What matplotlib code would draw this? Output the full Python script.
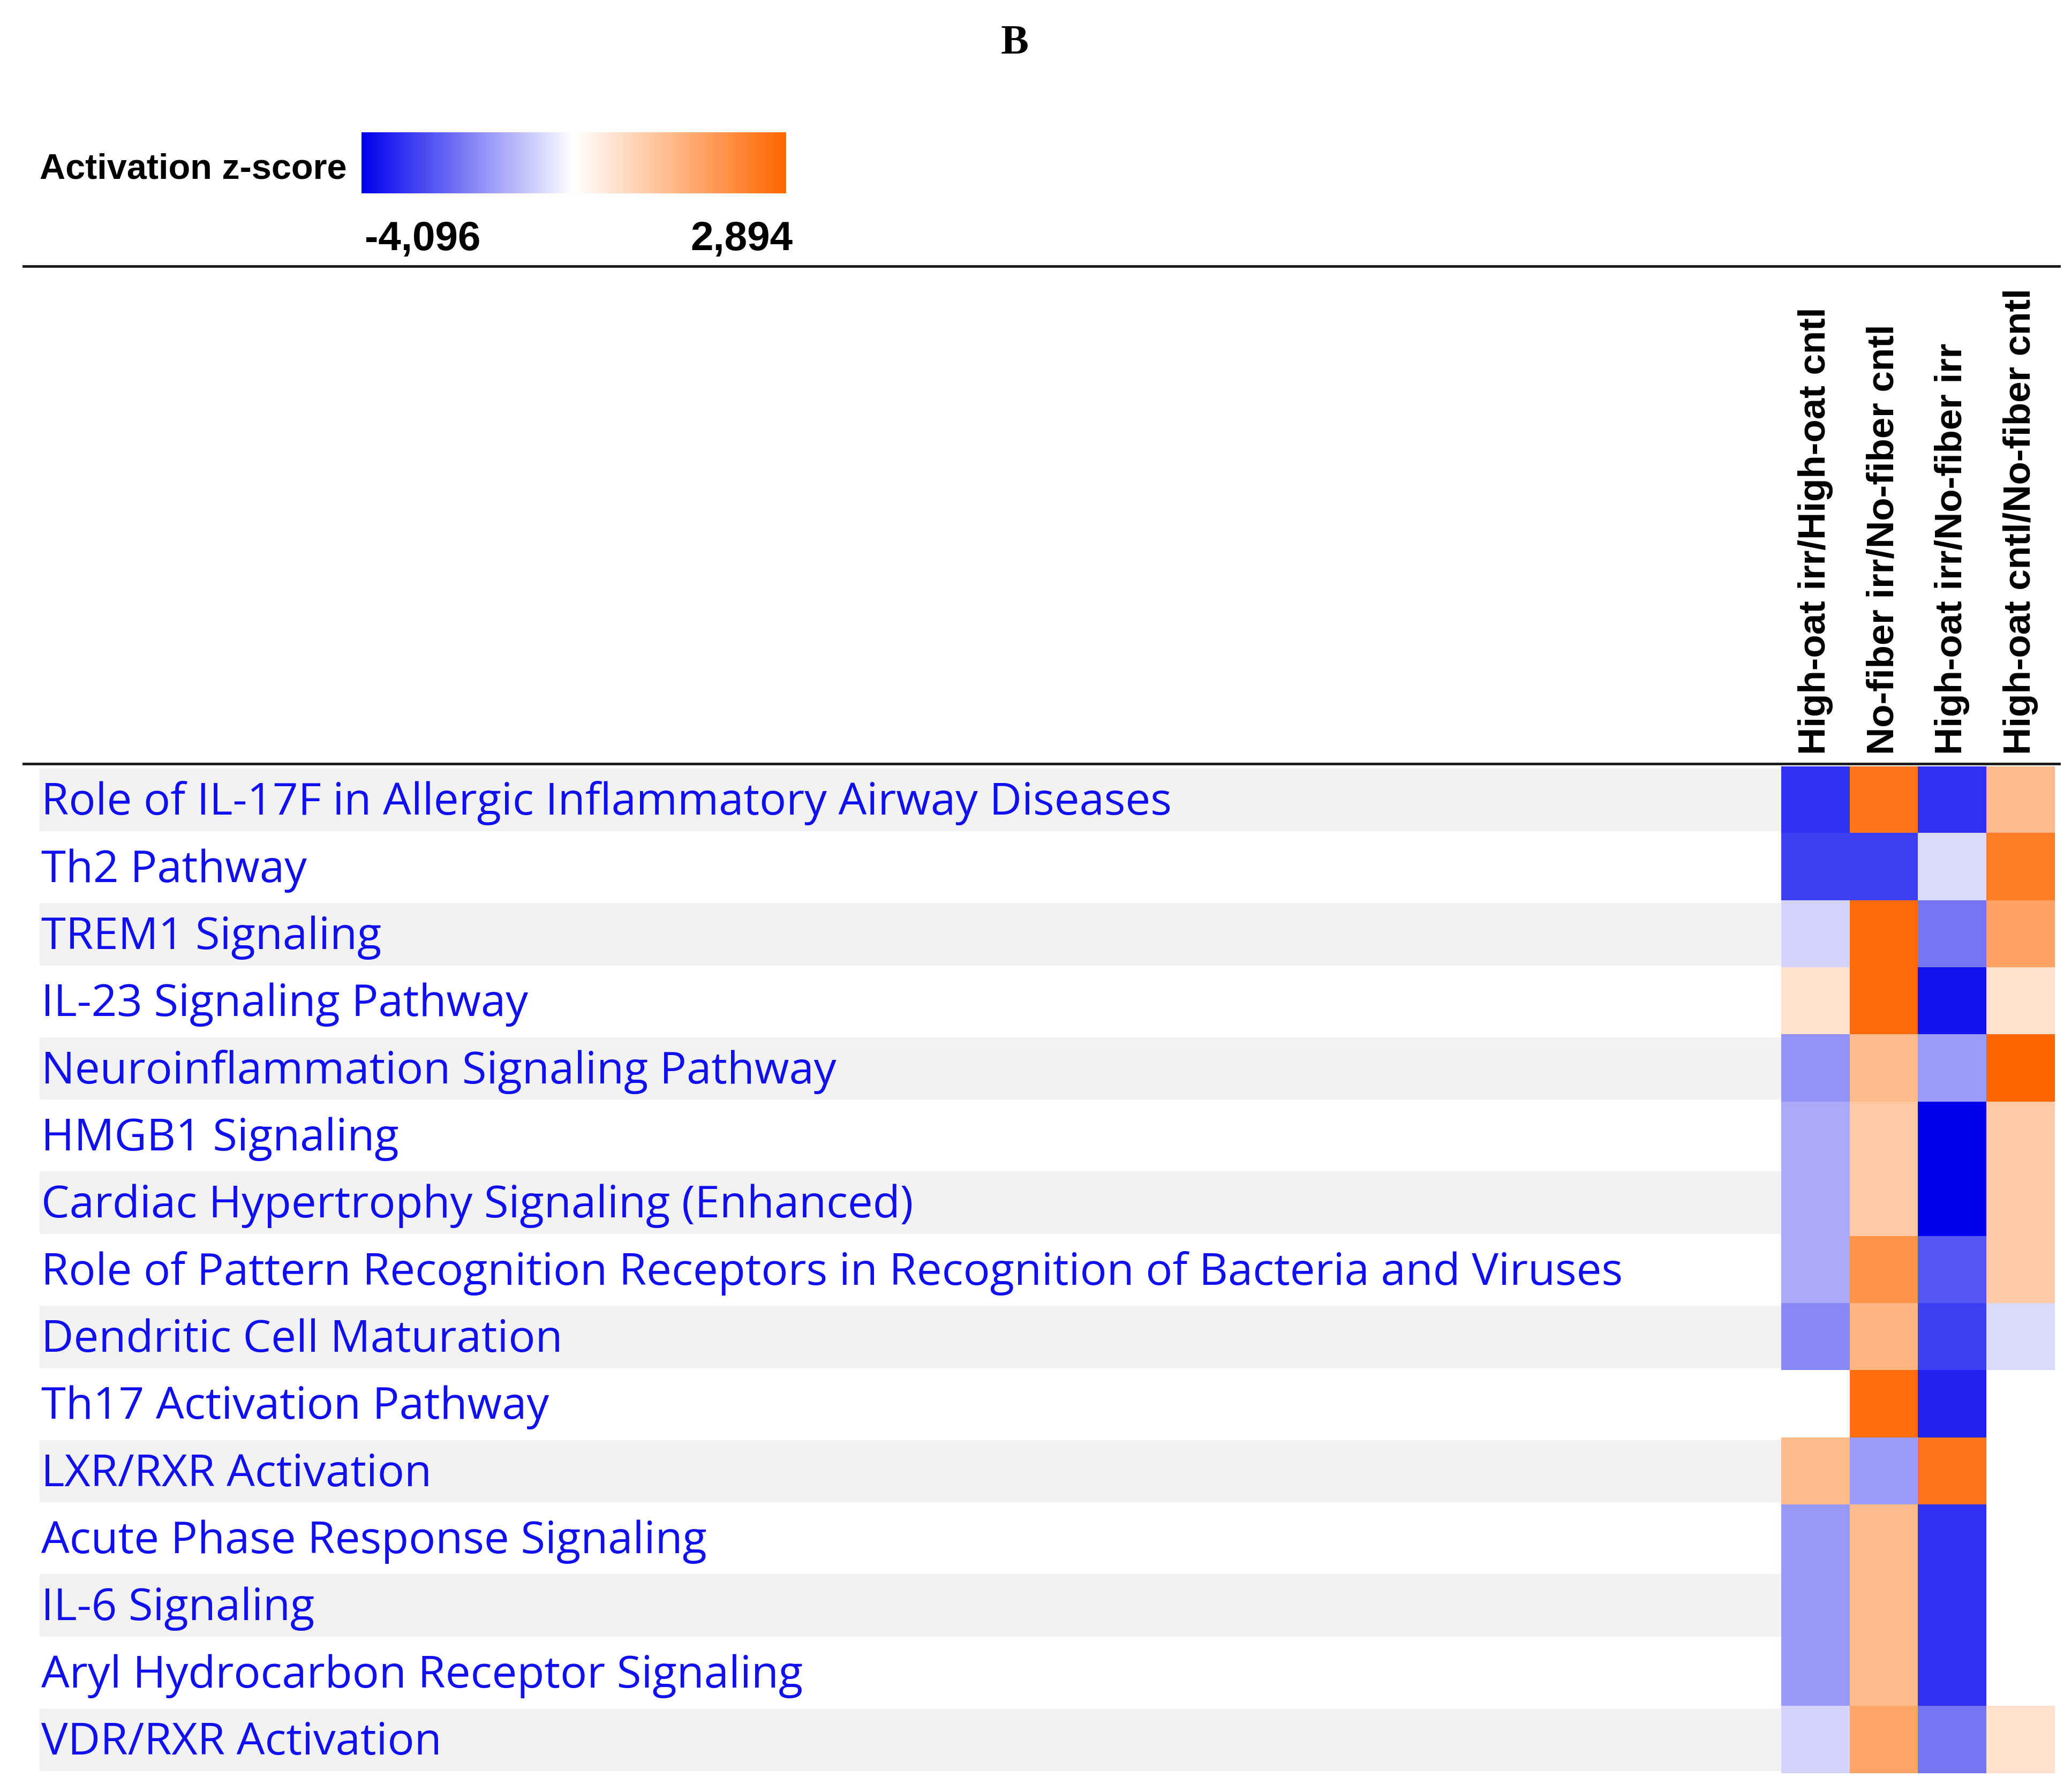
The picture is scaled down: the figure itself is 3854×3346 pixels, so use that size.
import numpy as np
import matplotlib.pyplot as plt
from matplotlib.colors import LinearSegmentedColormap, TwoSlopeNorm
from matplotlib.cm import ScalarMappable
from matplotlib.lines import Line2D

# IPA canonical pathways, comparison analysis (activation z-scores)
pathways = [
    "Role of IL-17F in Allergic Inflammatory Airway Diseases",
    "Th2 Pathway",
    "TREM1 Signaling",
    "IL-23 Signaling Pathway",
    "Neuroinflammation Signaling Pathway",
    "HMGB1 Signaling",
    "Cardiac Hypertrophy Signaling (Enhanced)",
    "Role of Pattern Recognition Receptors in Recognition of Bacteria and Viruses",
    "Dendritic Cell Maturation",
    "Th17 Activation Pathway",
    "LXR/RXR Activation",
    "Acute Phase Response Signaling",
    "IL-6 Signaling",
    "Aryl Hydrocarbon Receptor Signaling",
    "VDR/RXR Activation",
]
comparisons = [
    "High-oat irr/High-oat cntl",
    "No-fiber irr/No-fiber cntl",
    "High-oat irr/No-fiber irr",
    "High-oat cntl/No-fiber cntl",
]
nan = np.nan
z_oat_irr_vs_oat_cntl = [-3.3, -3.1, -0.7, 0.55, -1.7, -1.35, -1.35, -1.35, -1.9, nan, 1.3, -1.65, -1.65, -1.65, -0.7]
z_nofib_irr_vs_nofib_cntl = [2.6, -3.1, 2.8, 2.8, 1.3, 1.0, 1.0, 2.05, 1.4, 2.75, -1.6, 1.3, 1.3, 1.3, 1.7]
z_oat_irr_vs_nofib_irr = [-3.3, -0.6, -2.2, -3.8, -1.6, -4.096, -4.096, -2.7, -3.1, -3.55, 2.6, -3.3, -3.3, -3.3, -2.2]
z_oat_cntl_vs_nofib_cntl = [1.3, 2.45, 1.75, 0.55, 2.894, 1.0, 1.0, 1.0, -0.6, nan, nan, nan, nan, nan, 0.55]
z_min, z_max = -4.096, 2.894

data = np.array([z_oat_irr_vs_oat_cntl, z_nofib_irr_vs_nofib_cntl,
                 z_oat_irr_vs_nofib_irr, z_oat_cntl_vs_nofib_cntl]).T

W, H = 3855, 3346
fig = plt.figure(figsize=(W / 100, H / 100), dpi=100)

cmap = LinearSegmentedColormap.from_list("ipa", ["#0000ee", "#ffffff", "#ff6600"])
cmap.set_bad("white")
norm = TwoSlopeNorm(vcenter=0, vmin=z_min, vmax=z_max)

label_font = "Open Sans"
bold_font = "Liberation Sans"
n_rows = len(pathways)

# heatmap
top, bottom = 1431, 3311
ax = fig.add_axes([3326 / W, 1 - bottom / H, 511 / W, (bottom - top) / H])
ax.imshow(np.ma.masked_invalid(data), cmap=cmap, norm=norm, aspect="auto",
          interpolation="nearest")
ax.set_xticks(range(len(comparisons)))
ax.set_xticklabels(comparisons, rotation=90, fontsize=51, fontweight="bold",
                   family=bold_font, va="bottom", ha="center")
ax.xaxis.tick_top()
ax.tick_params(axis="x", length=0, pad=16)
ax.set_yticks([])
for s in ax.spines.values():
    s.set_visible(False)

# row labels with alternating grey bands
ax_lab = fig.add_axes([74 / W, 1 - bottom / H, (3326 - 74) / W, (bottom - top) / H])
ax_lab.set_xlim(0, 1)
ax_lab.set_ylim(n_rows - 0.5, -0.5)
rows = np.arange(n_rows)
ax_lab.barh(rows[::2], 1, height=0.93, left=0, color="#f2f2f2")
for i, name in enumerate(pathways):
    ax_lab.text(0.001, i + 0.22, name, ha="left", va="baseline", fontsize=60,
                family=label_font, color="#0f0ff0")
ax_lab.axis("off")

# colour scale
cax = fig.add_axes([675 / W, 1 - 361 / H, 793 / W, 114 / H])
cb = fig.colorbar(ScalarMappable(norm=norm, cmap=cmap), cax=cax, orientation="horizontal")
cb.set_ticks([])
cb.outline.set_visible(False)
cax.text(0.008, -0.45, f"{z_min:,.3f}".replace(".", ","), transform=cax.transAxes,
         ha="left", va="top", fontsize=55, fontweight="bold", family=bold_font)
cax.text(1.015, -0.45, f"{z_max:,.3f}".replace(".", ","), transform=cax.transAxes,
         ha="right", va="top", fontsize=55, fontweight="bold", family=bold_font)
fig.text(74 / W, 1 - 316 / H, "Activation z-score", ha="left", va="center",
         fontsize=48, fontweight="bold", family=bold_font)

fig.text(0.4916, 1 - 82 / H, "B", ha="center", va="center", fontsize=56,
         fontweight="bold", family="Liberation Serif")

# separator lines
for y in (497, 1426):
    fig.add_artist(Line2D([44 / W, 3845 / W], [1 - y / H] * 2,
                          transform=fig.transFigure, color="#1a1a1a", lw=3.5))

fig.savefig("out.png", dpi=100)
